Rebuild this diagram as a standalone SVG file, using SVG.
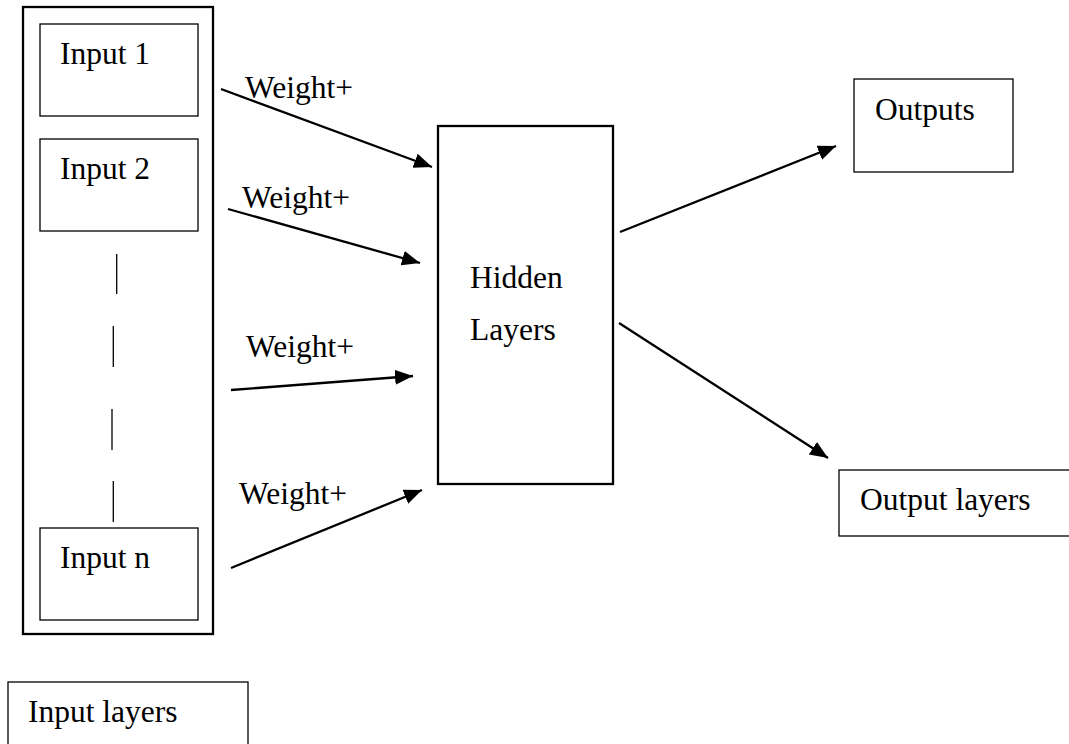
<svg xmlns="http://www.w3.org/2000/svg" width="1069" height="744" viewBox="0 0 1069 744">
<style>
.t{font-family:"Liberation Serif","Times New Roman",serif;font-size:31.5px;fill:#000}
.thin{fill:#fff;stroke:#000;stroke-width:1.3}
.thick{fill:#fff;stroke:#000;stroke-width:2.3}
.c{stroke:#000;stroke-width:2.3;fill:none;marker-end:url(#ah)}
.d{stroke:#000;stroke-width:1.3}
</style>
<defs>
<marker id="ah" markerUnits="userSpaceOnUse" markerWidth="20" markerHeight="16" refX="18" refY="7.5" orient="auto">
<path d="M0,0 L18,7.5 L0,15 z" fill="#000"/>
</marker>
</defs>
<rect width="1069" height="744" fill="#fff"/>
<g id="input-group">
<rect class="thick" x="23" y="7" width="190" height="627"/>
</g>
<g id="input1">
<rect class="thin" x="40" y="24" width="158" height="92"/>
<text class="t" x="60" y="64">Input 1</text>
</g>
<g id="input2">
<rect class="thin" x="40" y="139" width="158" height="92"/>
<text class="t" x="60" y="179">Input 2</text>
</g>
<g id="ellipsis">
<line class="d" x1="116.7" y1="254" x2="116.7" y2="294"/>
<line class="d" x1="113.3" y1="326" x2="113.3" y2="367"/>
<line class="d" x1="112" y1="409" x2="112" y2="450"/>
<line class="d" x1="113.3" y1="481" x2="113.3" y2="522"/>
</g>
<g id="inputn">
<rect class="thin" x="40" y="528" width="158" height="92"/>
<text class="t" x="60" y="568">Input n</text>
</g>
<g id="input-layers">
<rect class="thin" x="8" y="682" width="240" height="80"/>
<text class="t" x="28" y="722">Input layers</text>
</g>
<g id="hidden">
<rect class="thick" x="438" y="126" width="175" height="358"/>
<text class="t" x="470" y="288">Hidden</text>
<text class="t" x="470" y="340">Layers</text>
</g>
<g id="outputs">
<rect class="thin" x="854" y="79" width="159" height="93"/>
<text class="t" x="875" y="120">Outputs</text>
</g>
<g id="output-layers">
<rect class="thin" x="839" y="470" width="250" height="66"/>
<text class="t" x="860" y="510">Output layers</text>
</g>
<g id="connectors">
<line class="c" x1="221" y1="89" x2="432" y2="167"/>
<line class="c" x1="228" y1="209" x2="420" y2="263"/>
<line class="c" x1="231" y1="390" x2="413" y2="376"/>
<line class="c" x1="231" y1="568" x2="422" y2="490"/>
<line class="c" x1="620" y1="232" x2="836" y2="146"/>
<line class="c" x1="619" y1="323" x2="828" y2="458"/>
</g>
<g id="labels">
<text class="t" x="245" y="98">Weight+</text>
<text class="t" x="242" y="208">Weight+</text>
<text class="t" x="246" y="357">Weight+</text>
<text class="t" x="239" y="504">Weight+</text>
</g>
</svg>
